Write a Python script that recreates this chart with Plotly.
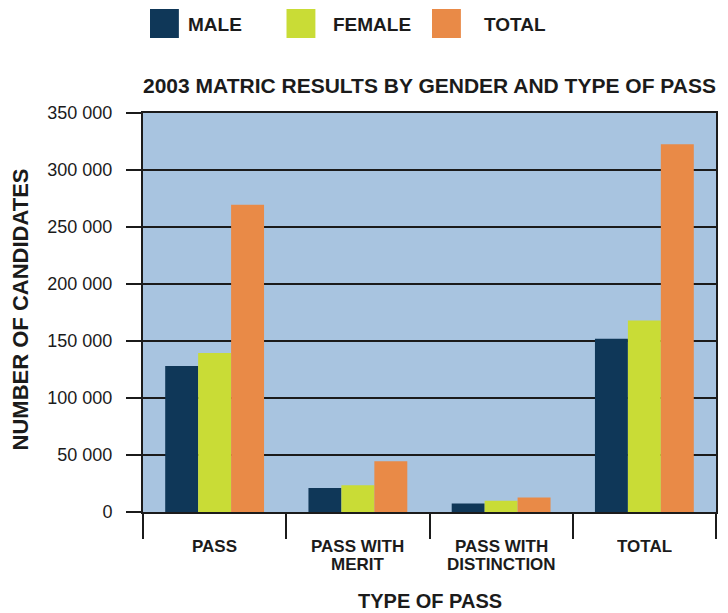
import plotly.graph_objects as go

# Categories (type of pass) and candidate counts per series
categories = ["PASS", "PASS WITH<br>MERIT", "PASS WITH<br>DISTINCTION", "TOTAL"]
male = [128000, 21000, 7500, 152000]
female = [139500, 23500, 9800, 168000]
total = [269500, 44500, 12700, 322500]

series_names = ["MALE", "FEMALE", "TOTAL"]
series_colors = ["#0f3758", "#c9dc36", "#e98a47"]

y_tick_values = [0, 50000, 100000, 150000, 200000, 250000, 300000, 350000]
y_tick_labels = ["0", "50 000", "100 000", "150 000", "200 000", "250 000", "300 000", "350 000"]

FONT = "Liberation Sans, Arial, sans-serif"
INK = "#1b1b1b"

fig = go.Figure()
for name, color, values in zip(series_names, series_colors, [male, female, total]):
    fig.add_trace(go.Bar(
        x=categories, y=values, name=name,
        marker=dict(color=color, line=dict(width=0)),
        showlegend=False,
    ))

# Plot-area geometry (pixels) used to place the header legend and titles
W, H = 728, 613
L, R, T, B = 143, 10, 113, 101
pw, ph = W - L - R, H - T - B

def px_x(x):
    return (x - L) / pw

def px_y(y):
    return (H - B - y) / ph

shapes = []
annotations = []
legend_box_left = [150, 287, 433]
legend_text_left = [186, 332, 483]
for name, color, bx, tx in zip(series_names, series_colors, legend_box_left, legend_text_left):
    shapes.append(dict(
        type="rect", xref="paper", yref="paper",
        x0=px_x(bx), x1=px_x(bx + 29), y0=px_y(38), y1=px_y(9),
        fillcolor=color, line=dict(width=0), layer="above",
    ))
    annotations.append(dict(
        text=name, xref="paper", yref="paper",
        x=px_x(tx), y=px_y(24), xanchor="left", yanchor="middle",
        showarrow=False, font=dict(family=FONT, size=19, color=INK, weight="bold"),
    ))

# Category labels under the axis, one annotation per text line for tight leading
LINE_STEP = 18
for cat in categories:
    for i, line in enumerate(cat.split("<br>")):
        annotations.append(dict(
            text=line, xref="x", yref="paper", x=cat, y=px_y(546 + LINE_STEP * i),
            xanchor="center", yanchor="middle", showarrow=False,
            height=LINE_STEP, valign="middle",
            font=dict(family=FONT, size=17, color=INK, weight="bold"),
        ))

annotations.append(dict(
    text="2003 MATRIC RESULTS BY GENDER AND TYPE OF PASS",
    xref="paper", yref="paper", x=0.5, y=px_y(86), xanchor="center", yanchor="middle",
    showarrow=False, font=dict(family=FONT, size=21, color=INK, weight="bold"),
))
annotations.append(dict(
    text="TYPE OF PASS",
    xref="paper", yref="paper", x=0.5, y=px_y(601), xanchor="center", yanchor="middle",
    showarrow=False, font=dict(family=FONT, size=20, color=INK, weight="bold"),
))
annotations.append(dict(
    text="NUMBER OF CANDIDATES",
    xref="paper", yref="paper", x=px_x(20), y=px_y(309), xanchor="center", yanchor="middle",
    textangle=-90, showarrow=False,
    font=dict(family=FONT, size=22, color=INK, weight="bold"),
))

fig.update_layout(
    width=W, height=H,
    margin=dict(l=L, r=R, t=T, b=B, pad=0),
    paper_bgcolor="white",
    plot_bgcolor="#a8c4e0",
    barmode="group",
    bargap=0.31,
    bargroupgap=0,
    shapes=shapes,
    annotations=annotations,
    showlegend=False,
)

fig.update_xaxes(
    type="category",
    showgrid=False,
    showline=True, linecolor=INK, linewidth=2, mirror=True,
    ticks="outside", tickson="boundaries", ticklen=25, tickwidth=2, tickcolor=INK,
    showticklabels=False,
    zeroline=False,
)

fig.update_yaxes(
    range=[0, 350000],
    tickvals=y_tick_values, ticktext=y_tick_labels,
    showgrid=True, gridcolor=INK, gridwidth=2,
    showline=True, linecolor=INK, linewidth=2, mirror=True,
    ticks="outside", ticklen=15, tickwidth=2, tickcolor=INK,
    ticklabelstandoff=10,
    tickfont=dict(family=FONT, size=18, color=INK),
    zeroline=False,
)

fig.write_html("out.html")
